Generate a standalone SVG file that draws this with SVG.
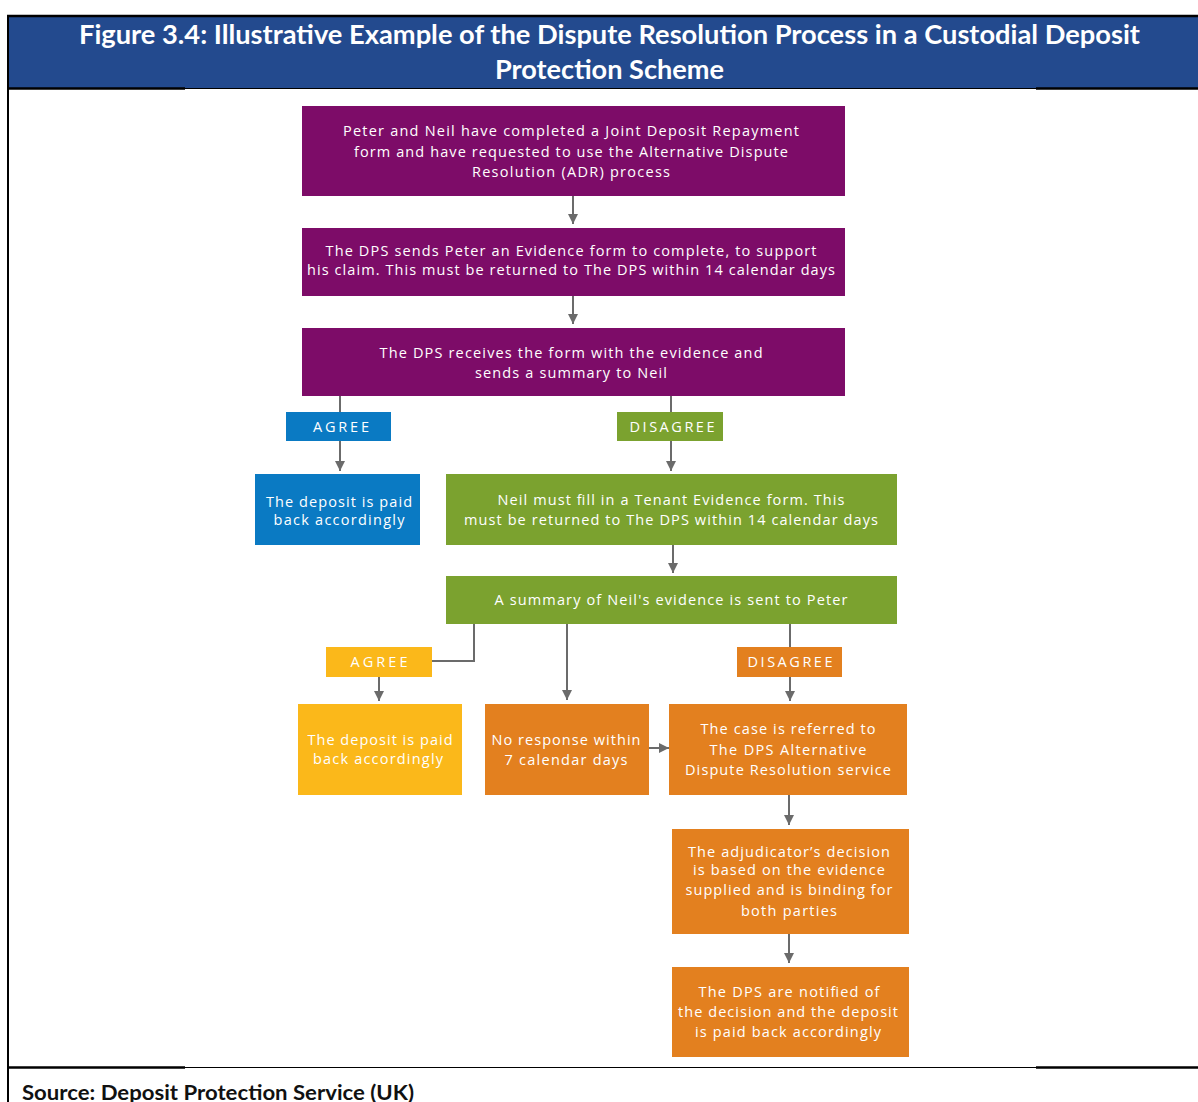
<svg xmlns="http://www.w3.org/2000/svg" width="1198" height="1102" viewBox="0 0 1198 1102">
  <style>
    .title { font-family: Lato, "Liberation Sans", sans-serif; font-weight: bold; font-size: 26px; fill: #ffffff; text-anchor: middle; }
    .src { font-family: Lato, "Liberation Sans", sans-serif; font-weight: bold; font-size: 20px; fill: #111111; }
    .t { font-family: "Open Sans", "Liberation Sans", sans-serif; font-size: 14.5px; fill: #ffffff; text-anchor: middle; }
    .purple { fill: #7D0C68; }
    .blue { fill: #0A7AC3; }
    .green { fill: #7BA22F; }
    .yellow { fill: #FBB81A; }
    .orange { fill: #E3801F; }
    .conn { fill: none; stroke: #6B6B6B; stroke-width: 2; }
    .rule { stroke: #000000; }
  </style>
  <defs>
    <marker id="arrow" markerUnits="userSpaceOnUse" markerWidth="12" markerHeight="12" refX="11" refY="6" orient="auto">
      <path d="M1,1 L11,6 L1,11 z" fill="#6B6B6B"/>
    </marker>
  </defs>

  <rect x="0" y="0" width="1198" height="1102" fill="#ffffff"/>

  <!-- header band -->
  <g id="header">
    <rect x="8" y="16" width="1190" height="72" fill="#234A8E"/>
    <line class="rule" x1="7" y1="16" x2="1198" y2="16" stroke-width="2.5"/>
    <line class="rule" x1="8" y1="15" x2="8" y2="1102" stroke-width="2"/>
    <line class="rule" x1="8" y1="88.5" x2="185" y2="88.5" stroke-width="2.5"/>
    <line class="rule" x1="185" y1="88.5" x2="1036" y2="88.5" stroke-width="1"/>
    <line class="rule" x1="1036" y1="88.5" x2="1198" y2="88.5" stroke-width="2.5"/>
    <text class="title" x="609.5" y="44" textLength="1061" lengthAdjust="spacingAndGlyphs">Figure 3.4: Illustrative Example of the Dispute Resolution Process in a Custodial Deposit</text>
    <text class="title" x="609.5" y="79" textLength="229" lengthAdjust="spacingAndGlyphs">Protection Scheme</text>
  </g>

  <!-- footer -->
  <g id="footer">
    <line class="rule" x1="8" y1="1067.5" x2="185" y2="1067.5" stroke-width="2.5"/>
    <line class="rule" x1="185" y1="1067.5" x2="1036" y2="1067.5" stroke-width="1"/>
    <line class="rule" x1="1036" y1="1067.5" x2="1198" y2="1067.5" stroke-width="2.5"/>
    <text class="src" x="22" y="1100" textLength="392" lengthAdjust="spacingAndGlyphs">Source: Deposit Protection Service (UK)</text>
  </g>

  <!-- connectors -->
  <g id="connectors">
    <path class="conn" d="M573,196 V224" marker-end="url(#arrow)"/>
    <path class="conn" d="M573,296 V324" marker-end="url(#arrow)"/>
    <path class="conn" d="M340,396 V412"/>
    <path class="conn" d="M340,441 V471" marker-end="url(#arrow)"/>
    <path class="conn" d="M671,396 V412"/>
    <path class="conn" d="M671,441 V471" marker-end="url(#arrow)"/>
    <path class="conn" d="M673,545 V573" marker-end="url(#arrow)"/>
    <path class="conn" d="M474,624 V661 H432"/>
    <path class="conn" d="M379,677 V701" marker-end="url(#arrow)"/>
    <path class="conn" d="M567,624 V700" marker-end="url(#arrow)"/>
    <path class="conn" d="M649,748 H669" marker-end="url(#arrow)"/>
    <path class="conn" d="M790,624 V647"/>
    <path class="conn" d="M790,677 V701" marker-end="url(#arrow)"/>
    <path class="conn" d="M789,795 V825" marker-end="url(#arrow)"/>
    <path class="conn" d="M789,934 V963" marker-end="url(#arrow)"/>
  </g>

  <!-- nodes -->
  <g id="n-request">
    <rect class="purple" x="302" y="106" width="543" height="90"/>
    <text class="t" x="571" y="136" textLength="456">Peter and Neil have completed a Joint Deposit Repayment</text>
    <text class="t" x="571" y="157" textLength="434">form and have requested to use the Alternative Dispute</text>
    <text class="t" x="571" y="177" textLength="198">Resolution (ADR) process</text>
  </g>
  <g id="n-evidence-form">
    <rect class="purple" x="302" y="228" width="543" height="68"/>
    <text class="t" x="571" y="256" textLength="491">The DPS sends Peter an Evidence form to complete, to support</text>
    <text class="t" x="571" y="275" textLength="528">his claim. This must be returned to The DPS within 14 calendar days</text>
  </g>
  <g id="n-summary-neil">
    <rect class="purple" x="302" y="328" width="543" height="68"/>
    <text class="t" x="571" y="358" textLength="383">The DPS receives the form with the evidence and</text>
    <text class="t" x="571" y="378" textLength="192">sends a summary to Neil</text>
  </g>
  <g id="n-agree-1">
    <rect class="blue" x="286" y="412" width="105" height="29"/>
    <text class="t" x="341" y="432" textLength="56">AGREE</text>
  </g>
  <g id="n-disagree-1">
    <rect class="green" x="617" y="412" width="106" height="29"/>
    <text class="t" x="672" y="432" textLength="85">DISAGREE</text>
  </g>
  <g id="n-paid-1">
    <rect class="blue" x="255" y="474" width="165" height="71"/>
    <text class="t" x="339" y="507" textLength="146">The deposit is paid</text>
    <text class="t" x="339" y="525" textLength="131">back accordingly</text>
  </g>
  <g id="n-tenant-form">
    <rect class="green" x="446" y="474" width="451" height="71"/>
    <text class="t" x="671" y="505" textLength="347">Neil must fill in a Tenant Evidence form. This</text>
    <text class="t" x="671" y="525" textLength="414">must be returned to The DPS within 14 calendar days</text>
  </g>
  <g id="n-summary-peter">
    <rect class="green" x="446" y="576" width="451" height="48"/>
    <text class="t" x="671" y="605" textLength="353">A summary of Neil's evidence is sent to Peter</text>
  </g>
  <g id="n-agree-2">
    <rect class="yellow" x="326" y="647" width="106" height="30"/>
    <text class="t" x="379" y="667" textLength="57">AGREE</text>
  </g>
  <g id="n-disagree-2">
    <rect class="orange" x="737" y="647" width="105" height="30"/>
    <text class="t" x="790" y="667" textLength="85">DISAGREE</text>
  </g>
  <g id="n-paid-2">
    <rect class="yellow" x="298" y="704" width="164" height="91"/>
    <text class="t" x="380" y="745" textLength="145">The deposit is paid</text>
    <text class="t" x="378" y="764" textLength="130">back accordingly</text>
  </g>
  <g id="n-no-response">
    <rect class="orange" x="485" y="704" width="164" height="91"/>
    <text class="t" x="566" y="745" textLength="149">No response within</text>
    <text class="t" x="566" y="765" textLength="123">7 calendar days</text>
  </g>
  <g id="n-referred">
    <rect class="orange" x="669" y="704" width="238" height="91"/>
    <text class="t" x="788" y="734" textLength="175">The case is referred to</text>
    <text class="t" x="788" y="755" textLength="157">The DPS Alternative</text>
    <text class="t" x="788" y="775" textLength="206">Dispute Resolution service</text>
  </g>
  <g id="n-decision">
    <rect class="orange" x="672" y="829" width="237" height="105"/>
    <text class="t" x="789" y="857" textLength="202">The adjudicator’s decision</text>
    <text class="t" x="789" y="875" textLength="192">is based on the evidence</text>
    <text class="t" x="789" y="895" textLength="207">supplied and is binding for</text>
    <text class="t" x="789" y="916" textLength="96">both parties</text>
  </g>
  <g id="n-notified">
    <rect class="orange" x="672" y="967" width="237" height="90"/>
    <text class="t" x="789" y="997" textLength="181">The DPS are notified of</text>
    <text class="t" x="788" y="1017" textLength="220">the decision and the deposit</text>
    <text class="t" x="788" y="1037" textLength="186">is paid back accordingly</text>
  </g>
</svg>
